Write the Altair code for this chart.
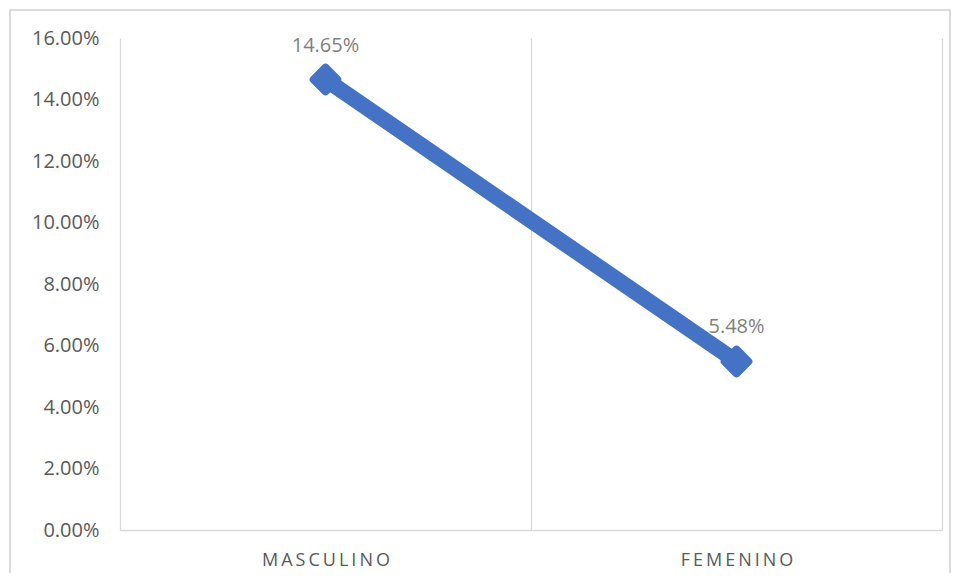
import altair as alt
import pandas as pd

categories = ["MASCULINO", "FEMENINO"]
display_labels = ["M\u2006A\u2006S\u2006C\u2006U\u2006L\u2006I\u2006N\u2006O",
                  "F\u2006E\u2006M\u2006E\u2006N\u2006I\u2006N\u2006O"]
values = [0.1465, 0.0548]
y_ticks = [0.0, 0.02, 0.04, 0.06, 0.08, 0.10, 0.12, 0.14, 0.16]

df = pd.DataFrame({"sexo": display_labels, "valor": values})

FONT = "Open Sans"
GRID = "#d9d9d9"
BLUE = "#4472c4"

x_enc = alt.X(
    "sexo:N",
    sort=display_labels,
    scale=alt.Scale(paddingInner=0, paddingOuter=0),
    axis=alt.Axis(
        title=None, labelAngle=0, tickBand="extent", grid=True,
        gridColor=GRID, gridWidth=1.3, domainColor=GRID, domainWidth=1.3,
        ticks=False, labelFont=FONT, labelFontSize=18, labelColor="#595959",
        labelPadding=21,
    ),
)
y_enc = alt.Y(
    "valor:Q",
    scale=alt.Scale(domain=[0, 0.16], nice=False),
    axis=alt.Axis(
        title=None, format=".2%", values=y_ticks, grid=False, domain=False,
        ticks=False, labelFont=FONT, labelFontSize=20, labelColor="#595959",
        labelPadding=21,
    ),
)

base = alt.Chart(df).encode(x=x_enc, y=y_enc)

line = base.mark_line(color=BLUE, strokeWidth=16, strokeCap="round")
points = base.mark_point(
    shape="diamond", filled=True, size=560, color=BLUE,
    stroke=BLUE, strokeWidth=8, strokeJoin="round", opacity=1,
)
labels = base.mark_text(
    dy=-24, baseline="bottom", font=FONT, fontSize=20, color="#7f7f7f"
).encode(text=alt.Text("valor:Q", format=".2%"))

border = alt.Chart(df).mark_rect(
    fill=None, stroke=GRID, strokeWidth=1.5, clip=False
).encode(
    x=alt.value(-110), x2=alt.value(830), y=alt.value(-28), y2=alt.value(600)
)

chart = alt.layer(border, line, points, labels).properties(
    width=822,
    height=492,
    padding={"left": 112, "top": 30, "right": 9, "bottom": 43},
    autosize=alt.AutoSizeParams(type="none"),
).configure_view(stroke=None)

chart.save("out.html", embed_options={"renderer": "svg", "actions": False})
